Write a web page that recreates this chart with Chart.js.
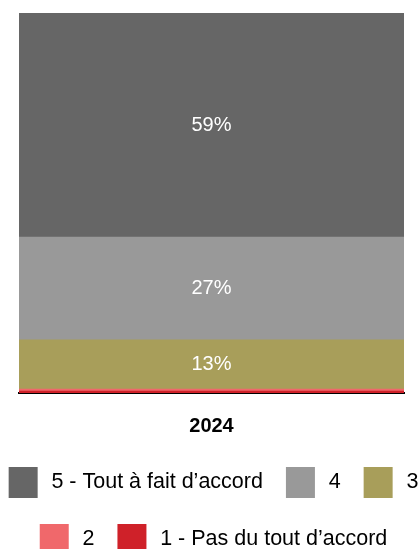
<!DOCTYPE html>
<html>
<head>
<meta charset="utf-8">
<script src="https://cdn.jsdelivr.net/npm/chart.js@4"></script>
<style>
  html, body { margin: 0; padding: 0; background: #fff; overflow: hidden; }
  #wrap { width: 419px; height: 549px; position: relative; overflow: hidden; }
  /* the canvas is a bit wider than the page so the legend keeps two rows */
  #inner { position: absolute; left: -23px; top: 0; width: 470px; height: 568px; }
</style>
</head>
<body>
<div id="wrap"><div id="inner"><canvas id="agreeChart"></canvas></div></div>
<script>
// Survey answers, bottom of the stack first
const years = ["2024"];
const answerLabels = ["1 - Pas du tout d\u2019accord", "2", "3", "4", "5 - Tout \u00e0 fait d\u2019accord"];
const answerShares = [[0.5], [0.5], [13], [27], [59]];
const answerColors = ["#CF2129", "#F0686B", "#A89E5A", "#999999", "#666666"];

const FONT = '"Liberation Sans", Arial, sans-serif';

// Write the percentage in the middle of the bigger segments
const segmentLabels = {
  id: 'segmentLabels',
  afterDatasetsDraw(chart) {
    const ctx = chart.ctx;
    ctx.save();
    ctx.font = '20px ' + FONT;
    ctx.fillStyle = '#ffffff';
    ctx.textAlign = 'center';
    ctx.textBaseline = 'middle';
    chart.data.datasets.forEach((ds, i) => {
      const meta = chart.getDatasetMeta(i);
      meta.data.forEach((bar, j) => {
        const v = ds.data[j];
        if (v < 5) return;
        const p = bar.getProps(['x', 'y', 'base'], true);
        ctx.fillText(v + '%', p.x, (p.y + p.base) / 2);
      });
    });
    ctx.restore();
  }
};

const ctx = document.getElementById('agreeChart').getContext('2d');
new Chart(ctx, {
  type: 'bar',
  data: {
    labels: years,
    datasets: answerLabels.map((label, i) => ({
      label: label,
      data: answerShares[i],
      backgroundColor: answerColors[i],
      barPercentage: 1,
      categoryPercentage: 1,
    })),
  },
  options: {
    responsive: true,
    maintainAspectRatio: false,
    animation: false,
    layout: { padding: { left: 0, right: 0, top: 13, bottom: 0 } },
    scales: {
      x: {
        stacked: true,
        grid: { display: false, drawTicks: false },
        border: { display: true, color: '#000', width: 2 },
        afterFit(scale) { scale.height = 51; },
        ticks: {
          color: '#000',
          padding: 21,
          font: { family: FONT, size: 20, weight: 'bold' },
        },
      },
      y: {
        stacked: true,
        min: 0,
        max: 100,
        grid: { display: false },
        border: { display: false },
        ticks: { display: false },
        afterFit(scale) { scale.width = 42; },
      },
      // empty axis on the right, only used as a margin
      yRight: {
        position: 'right',
        grid: { display: false },
        border: { display: false },
        ticks: { display: false },
        afterFit(scale) { scale.width = 43; },
      },
    },
    plugins: {
      tooltip: { enabled: false },
      legend: {
        position: 'bottom',
        reverse: true,
        labels: {
          boxWidth: 35,
          boxHeight: 37,
          padding: 20,
          color: '#000',
          font: { family: FONT, size: 21.5 },
          // white outline trims the swatch down to its drawn size
          generateLabels(chart) {
            const items = Chart.defaults.plugins.legend.labels.generateLabels(chart);
            items.forEach(it => { it.lineWidth = 6; it.strokeStyle = '#ffffff'; });
            return items;
          },
        },
      },
    },
  },
  plugins: [segmentLabels],
});
</script>
</body>
</html>
